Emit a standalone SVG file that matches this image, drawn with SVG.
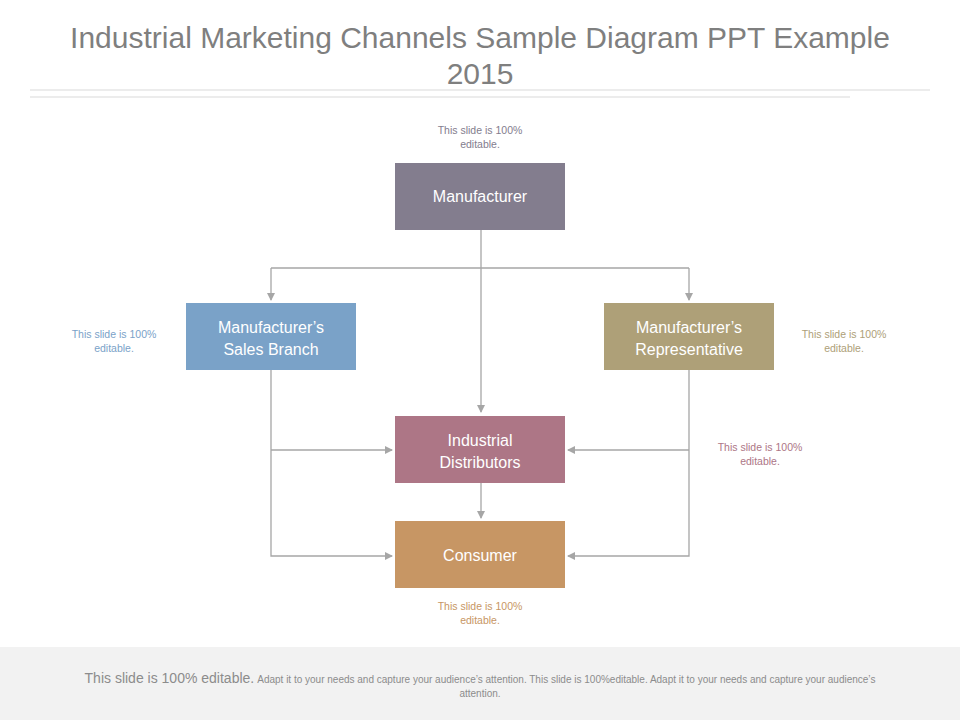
<svg xmlns="http://www.w3.org/2000/svg" width="960" height="720" viewBox="0 0 960 720">
<style>
.n{font-family:"Liberation Sans",Arial,sans-serif;font-size:16px;fill:#fff;text-anchor:middle}
.s{font-family:"Liberation Sans",Arial,sans-serif;font-size:10.5px;text-anchor:middle}
.c{fill:none;stroke:#a6a6a6;stroke-width:1.3}
</style>
<defs><marker id="a" markerWidth="8" markerHeight="8" refX="7" refY="4" orient="auto" markerUnits="userSpaceOnUse"><path d="M0,0 L8,4 L0,8 z" fill="#a6a6a6"/></marker></defs>
<rect width="960" height="720" fill="#fff"/>
<text x="480" y="48" text-anchor="middle" font-family="Liberation Sans,Arial,sans-serif" font-size="30" fill="#7f7f7f">Industrial Marketing Channels Sample Diagram PPT Example</text>
<text x="480" y="84" text-anchor="middle" font-family="Liberation Sans,Arial,sans-serif" font-size="30" fill="#7f7f7f">2015</text>
<line x1="30" y1="90" x2="930" y2="90" stroke="#d9d9d9"/>
<line x1="30" y1="97" x2="850" y2="97" stroke="#d9d9d9"/>
<g id="connectors">
<path class="c" d="M481,230 V412" marker-end="url(#a)"/>
<path class="c" d="M271,268 H689"/>
<path class="c" d="M271,268 V300" marker-end="url(#a)"/>
<path class="c" d="M689,268 V300" marker-end="url(#a)"/>
<path class="c" d="M271,370 V556 H392" marker-end="url(#a)"/>
<path class="c" d="M271,450 H392" marker-end="url(#a)"/>
<path class="c" d="M689,370 V556 H568" marker-end="url(#a)"/>
<path class="c" d="M689,450 H568" marker-end="url(#a)"/>
<path class="c" d="M481,483 V518" marker-end="url(#a)"/>
</g>
<g id="manufacturer"><rect x="395" y="163" width="170" height="67" fill="#837d8e"/><text class="n" x="480" y="202">Manufacturer</text></g>
<g id="sales-branch"><rect x="186" y="303" width="170" height="67" fill="#7aa2c8"/><text class="n" x="271" y="333">Manufacturer’s</text><text class="n" x="271" y="355">Sales Branch</text></g>
<g id="representative"><rect x="604" y="303" width="170" height="67" fill="#aea078"/><text class="n" x="689" y="333">Manufacturer’s</text><text class="n" x="689" y="355">Representative</text></g>
<g id="distributors"><rect x="395" y="416" width="170" height="67" fill="#ad7686"/><text class="n" x="480" y="446">Industrial</text><text class="n" x="480" y="468">Distributors</text></g>
<g id="consumer"><rect x="395" y="521" width="170" height="67" fill="#c79664"/><text class="n" x="480" y="561">Consumer</text></g>
<g class="s">
<text x="480" y="134" fill="#837d8e">This slide is 100%</text><text x="480" y="148" fill="#837d8e">editable.</text>
<text x="114" y="338" fill="#7aa2c8">This slide is 100%</text><text x="114" y="352" fill="#7aa2c8">editable.</text>
<text x="844" y="338" fill="#aea078">This slide is 100%</text><text x="844" y="352" fill="#aea078">editable.</text>
<text x="760" y="451" fill="#ad7686">This slide is 100%</text><text x="760" y="465" fill="#ad7686">editable.</text>
<text x="480" y="610" fill="#c79664">This slide is 100%</text><text x="480" y="624" fill="#c79664">editable.</text>
</g>
<rect x="0" y="647" width="960" height="73" fill="#f2f2f2"/>
<text x="480" y="683" text-anchor="middle" font-family="Liberation Sans,Arial,sans-serif" fill="#8c8c8c"><tspan font-size="14">This slide is 100% editable.</tspan><tspan font-size="10" dx="3">Adapt it to your needs and capture your audience’s attention. This slide is 100%editable. Adapt it to your needs and capture your audience’s</tspan></text>
<text x="480" y="697" text-anchor="middle" font-family="Liberation Sans,Arial,sans-serif" font-size="10" fill="#8c8c8c">attention.</text>
</svg>
